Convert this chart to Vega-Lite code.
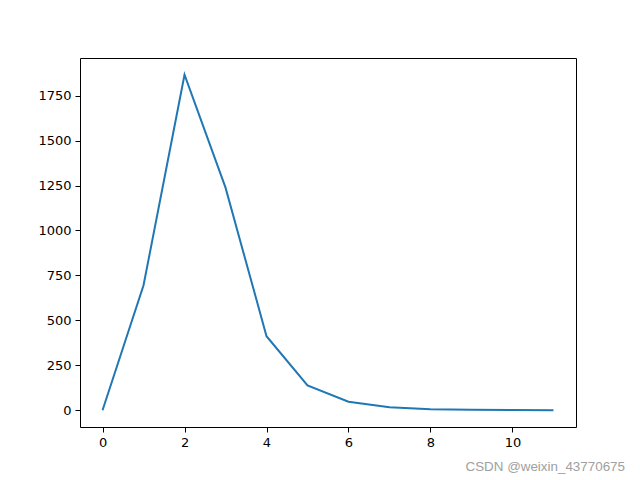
{
  "$schema": "https://vega.github.io/schema/vega-lite/v6.json",
  "width": 496,
  "height": 369,
  "autosize": {"type": "none"},
  "padding": {"left": 80, "top": 58, "right": 64, "bottom": 53},
  "background": "white",
  "title": {
    "text": "CSDN @weixin_43770675",
    "orient": "bottom",
    "anchor": "end",
    "frame": "group",
    "dx": 49,
    "offset": 11,
    "font": "Liberation Sans",
    "fontSize": 13.4,
    "fontWeight": "normal",
    "color": "#a0a0a0"
  },
  "config": {
    "view": {"stroke": "black", "strokeWidth": 1},
    "axis": {
      "grid": false,
      "domain": false,
      "tickColor": "black",
      "tickSize": 5,
      "tickWidth": 1,
      "labelFont": "DejaVu Sans",
      "labelFontSize": 13,
      "labelColor": "black",
      "labelPadding": 4,
      "title": null
    }
  },
  "data": {
    "values": [
      {"x": 0, "y": 0},
      {"x": 1, "y": 695},
      {"x": 2, "y": 1866},
      {"x": 3, "y": 1238},
      {"x": 4, "y": 412},
      {"x": 5, "y": 138},
      {"x": 6, "y": 47},
      {"x": 7, "y": 16},
      {"x": 8, "y": 6},
      {"x": 9, "y": 2.5},
      {"x": 10, "y": 1},
      {"x": 11, "y": 0.5}
    ]
  },
  "mark": {"type": "line", "color": "#1f77b4", "strokeWidth": 2, "clip": true},
  "encoding": {
    "x": {
      "field": "x",
      "type": "quantitative",
      "scale": {"domain": [-0.55, 11.55], "nice": false, "zero": false},
      "axis": {"values": [0, 2, 4, 6, 8, 10], "labelFlush": false, "format": "d"}
    },
    "y": {
      "field": "y",
      "type": "quantitative",
      "scale": {"domain": [-93.3, 1959.3], "nice": false, "zero": false},
      "axis": {"values": [0, 250, 500, 750, 1000, 1250, 1500, 1750], "labelFlush": false, "format": "d"}
    }
  }
}
